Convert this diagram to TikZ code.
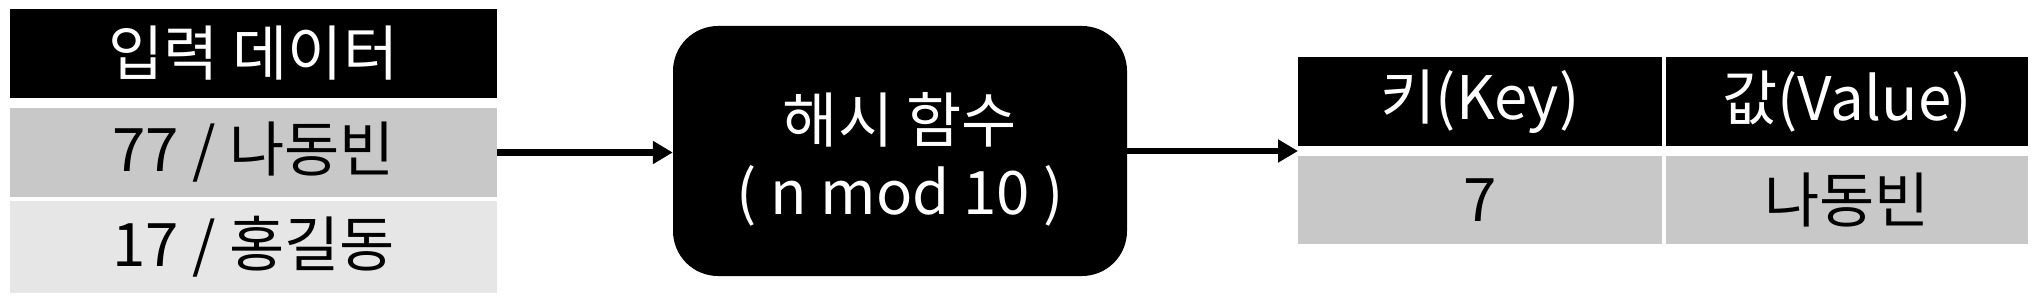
\documentclass[tikz,border=0pt]{standalone}
\usepackage{fontspec}
\newfontfamily\kr{Noto Sans CJK KR}
\usetikzlibrary{arrows.meta}
\definecolor{rowgray}{HTML}{C8C8C8}
\definecolor{rowlight}{HTML}{E6E6E6}
\tikzset{
  cell/.style={rectangle, inner sep=0pt, font=\kr\fontsize{60}{70}\selectfont, anchor=center},
  headcell/.style={cell, fill=black, text=white},
  graycell/.style={cell, fill=rowgray, text=black},
  lightcell/.style={cell, fill=rowlight, text=black},
  hashbox/.style={cell, fill=black, rounded corners=45pt},
  hashtext/.style={cell, text=white, align=center, font=\kr\fontsize{60}{72}\selectfont},
  flow/.style={line width=6.5pt, -{Triangle[length=20pt,width=22pt]}}
}
\begin{document}
\begin{tikzpicture}[x=1pt,y=1pt]
\useasboundingbox (0,0) rectangle (2036,300);
% left stack
\node[headcell, minimum width=487pt, minimum height=89pt] (head) at (253.5,246.5) {입력 데이터};
\node[graycell, minimum width=487pt, minimum height=89pt] (row1) at (253.5,147.5) {77 / 나동빈};
\node[lightcell, minimum width=487pt, minimum height=92pt] (row2) at (253.5,53) {17 / 홍길동};
% hash function
\node[hashbox, minimum width=454pt, minimum height=250pt] (hash) at (900,149) {};
\node[hashtext] (hashlbl) at ([yshift=-8pt]hash.center) {해시 함수\\( n mod 10 )};
% table
\node[headcell, minimum width=364pt, minimum height=89pt] (keyh) at (1480,198.5) {키(Key)};
\node[headcell, minimum width=362pt, minimum height=89pt] (valh) at (1847,198.5) {값(Value)};
\node[graycell, minimum width=364pt, minimum height=88pt] (keyd) at (1480,100) {7};
\node[graycell, minimum width=362pt, minimum height=88pt] (vald) at (1847,100) {나동빈};
\coordinate (tin) at (1298,149);
% arrows
\draw[flow] (row1.east) -- (hash.west |- row1.east);
\draw[flow] (hash.east) -- (tin);
\end{tikzpicture}
\end{document}
